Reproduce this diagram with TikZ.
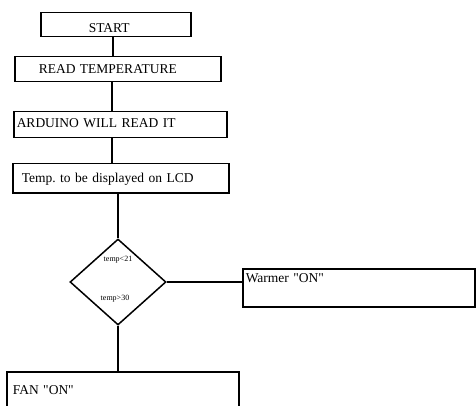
\documentclass[tikz,border=0pt]{standalone}
\usepackage{fontspec}
\setmainfont{Liberation Serif}
\usetikzlibrary{shapes.geometric,calc}
\tikzset{
  box/.style={draw, line width=1.5pt, rectangle, inner ysep=0pt, anchor=north west, align=left,
    font=\fontsize{13.5}{15}\selectfont},
  lbl/.style={inner sep=0pt, font=\fontsize{8}{9}\selectfont},
  link/.style={line width=1.5pt}
}
\begin{document}
\begin{tikzpicture}[x=1pt,y=-1pt]
\useasboundingbox (0,0) rectangle (476,406);
\clip (0,0) rectangle (476,406);
% boxes: box width = text width + 2*inner xsep ; height = text height + text depth
\node[box, inner xsep=48pt, text width=54pt, text height=20pt, text depth=4pt] (start) at (40,12) {START};
\node[box, inner xsep=24pt, text width=158pt, text height=17pt, text depth=8pt] (read) at (14,56) {READ TEMPERATURE};
\node[box, inner xsep=3pt, text width=207pt, text height=16pt, text depth=10pt] (ard) at (13,111) {ARDUINO WILL READ IT};
\node[box, inner xsep=9pt, text width=198pt, text height=19pt, text depth=10pt] (tmp) at (12,163) {Temp.\ to be displayed on LCD};
\node[draw, line width=1.5pt, shape=diamond, inner sep=0pt, minimum width=96pt, minimum height=86pt] (d) at (118,282) {};
\node[lbl] (lt) at ([yshift=22pt]d.center) {temp<21};
\node[lbl] (gt) at ([yshift=-17pt, xshift=-3pt]d.center) {temp>30};
\node[box, inner xsep=3pt, text width=226pt, text height=14pt, text depth=24pt] (warm) at (242,268) {Warmer \textquotedbl ON\textquotedbl};
\node[box, inner xsep=6pt, text width=220pt, text height=23pt, text depth=30pt] (fan) at (6,371) {FAN \textquotedbl ON\textquotedbl};
% connectors
\draw[link] ([xshift=-3pt]start.south) -- ([xshift=-3pt]start.south |- read.north);
\draw[link] ([xshift=-6pt]read.south) -- ([xshift=-6pt]read.south |- ard.north);
\draw[link] ([xshift=-8.5pt]ard.south) -- ([xshift=-8.5pt]ard.south |- tmp.north);
\draw[link] (tmp.south -| d.north) -- (d.north);
\draw[link] (d.east) -- (d.east -| warm.west);
\draw[link] (d.south) -- (d.south |- fan.north);
\end{tikzpicture}
\end{document}
